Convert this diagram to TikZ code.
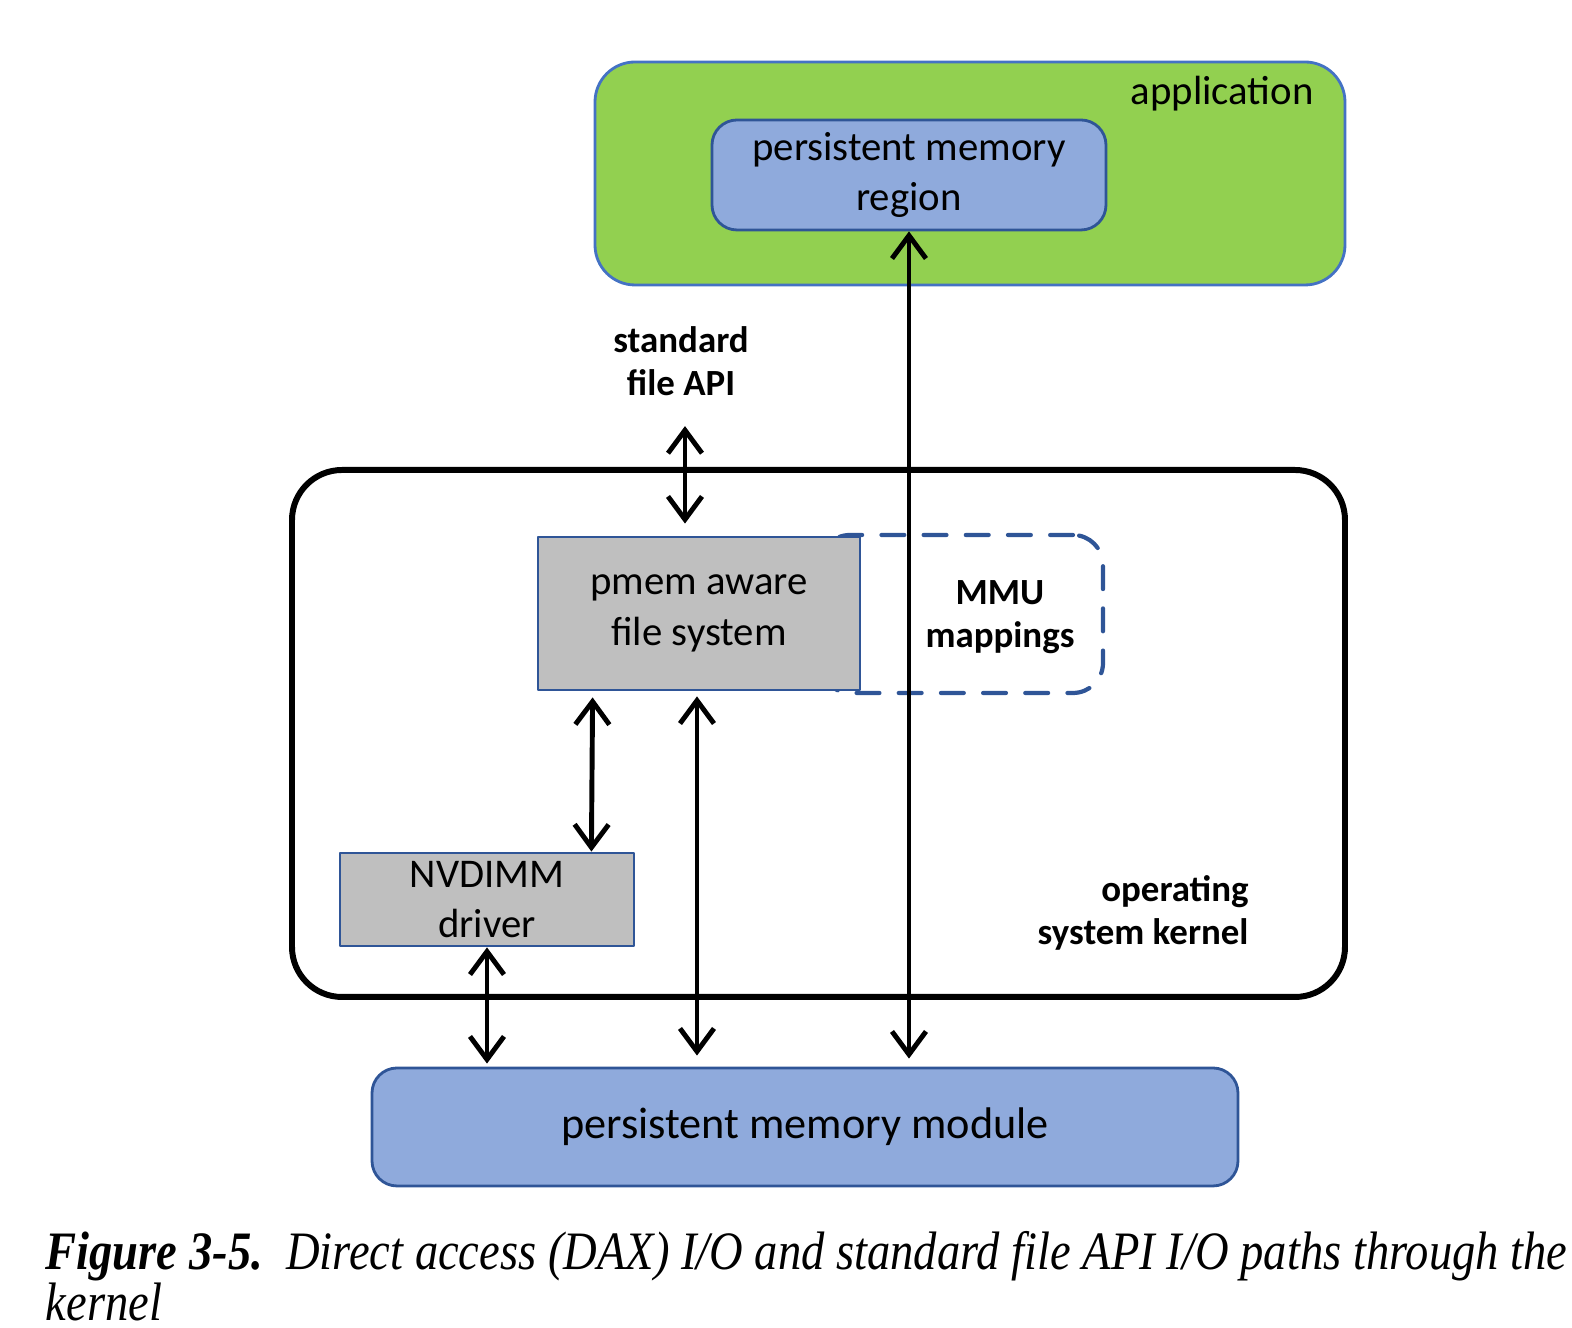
\documentclass[tikz,border=0pt]{standalone}
\usepackage{fontspec}
\setmainfont{Carlito}
\newfontfamily\capfont[FakeStretch=0.86]{Liberation Serif}
\usepackage{xcolor}
\usetikzlibrary{arrows.meta}
\definecolor{appgreen}{HTML}{92D050}
\definecolor{pmblue}{HTML}{8FAADC}
\definecolor{pmedge}{HTML}{2F5597}
\definecolor{appedge}{HTML}{4472C4}
\definecolor{fsgray}{HTML}{BFBFBF}

\begin{document}
\begin{tikzpicture}[line cap=round,line join=round,>={Straight Barb[length=2.3mm,width=3.4mm]},x=1.0cm,y=1.0cm,
		pmbox/.style={draw=pmedge,line width=0.8pt,fill=pmblue,rounded corners=2.5mm,align=center,font=\fontsize{11.6pt}{14.2pt}\selectfont},
		kbox/.style={draw=pmedge,line width=0.8pt,fill=fsgray,align=center,font=\fontsize{11.6pt}{14.4pt}\selectfont},
		lab/.style={align=center,font=\bfseries\fontsize{10.5pt}{12.3pt}\selectfont},
		io/.style={<->,line width=1.4pt}]
		\useasboundingbox (0.,0.) rectangle (15.72,13.28);
		% application and kernel frames
		\node (app) [draw=appedge,line width=0.8pt,fill=appgreen,rounded corners=4mm,minimum width=7.5cm,minimum height=2.23cm] at (9.7,11.545) {};
		\node (appl) [anchor=east,font=\fontsize{11.6pt}{14pt}\selectfont] at (13.26,12.34) {application};
		\node (kern) [draw,line width=1.7pt,rounded corners=5mm,minimum width=10.53cm,minimum height=5.27cm] at (8.185,5.945) {};
		\node (kernl) [lab,anchor=east,align=right] at (12.61,4.15) {operating\\system kernel};
		% boxes
		\node (region) [pmbox,minimum width=3.94cm,minimum height=1.1cm] at (9.09,11.53) {persistent memory\\region};
		\node (mmu) [draw=pmedge,dashed,dash pattern=on 6.5pt off 5.5pt,line width=1.2pt,rounded corners=3mm,minimum width=2.83cm,minimum height=1.58cm] at (9.615,7.14) {};
		\node (mmul) [lab] at (10.0,7.11) {MMU\\mappings};
		\node (fs) [kbox,minimum width=3.22cm,minimum height=1.53cm] at (6.99,7.145) {pmem aware\\file system};
		\node (driver) [kbox,minimum width=2.94cm,minimum height=0.93cm,inner sep=0pt] at (4.87,4.285) {NVDIMM\\driver};
		\node (module) [pmbox,font=\fontsize{12.6pt}{15pt}\selectfont,minimum width=8.66cm,minimum height=1.18cm] at (8.05,2.01) {persistent memory module};
		\node (api) [lab] at (6.81,9.67) {standard\\file API};
		% I/O paths
		\draw [io] ([xshift=0.04cm,yshift=-0.18cm]api.south) -- ([xshift=0.04cm,yshift=0.12cm]api.south |- fs.north);
		\draw [io] (region.south) -- ([yshift=0.08cm]region.south |- module.north);
		\draw [io] ([xshift=-0.02cm,yshift=-0.05cm]fs.south) -- ([xshift=-0.02cm,yshift=0.11cm]fs.south |- module.north);
		\draw [io] ([xshift=0.56cm,yshift=-0.06cm]fs.south west) -- ([xshift=-0.44cm]driver.north east);
		\draw [io] (driver.south) -- ([yshift=0.03cm]driver.south |- module.north);
		% caption
		\node (cap) [anchor=north west,align=left,inner sep=0pt,font=\capfont\itshape\fontsize{15.4pt}{14.3pt}\selectfont] at (0.45,0.97) {{\bfseries Figure 3-5.}\ \ Direct access (DAX) I/O and standard file API I/O paths through the\\kernel};
\end{tikzpicture}
\end{document}
